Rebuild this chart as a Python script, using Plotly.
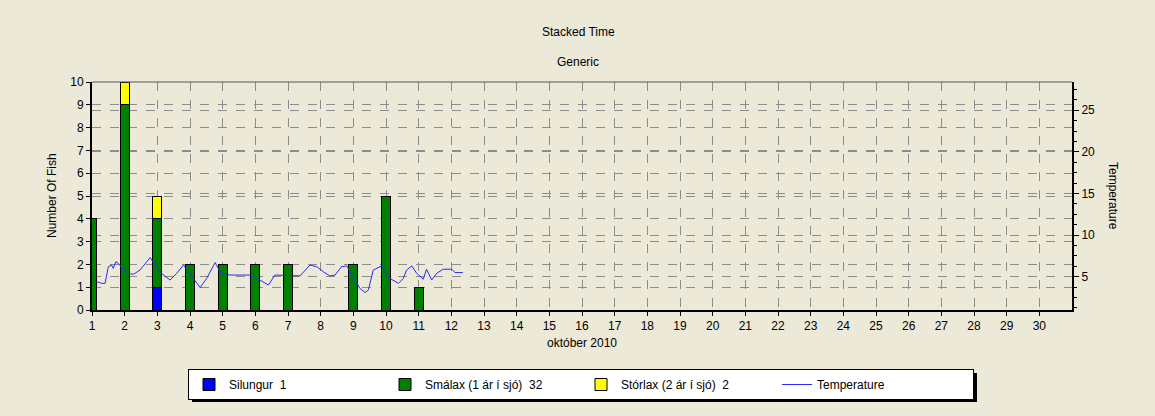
import plotly.graph_objects as go

# ---- data ----
days = [1, 2, 3, 4, 5, 6, 7, 9, 10, 11]
silungur = [0, 0, 1, 0, 0, 0, 0, 0, 0, 0]
smalax = [4, 9, 3, 2, 2, 2, 2, 2, 5, 1]
storlax = [0, 1, 1, 0, 0, 0, 0, 0, 0, 0]

temp_day = [1.00, 1.14, 1.30, 1.40, 1.50, 1.60, 1.65, 1.73, 1.81, 2.06, 2.27, 2.47,
            2.78, 2.93, 3.13, 3.39, 3.59, 3.80, 3.95, 4.10, 4.31, 4.51, 4.77, 4.92,
            5.22, 5.53, 5.84, 6.14, 6.40, 6.60, 7.37, 7.67, 7.88, 8.08, 8.28, 8.44,
            8.64, 8.80, 9.00, 9.20, 9.36, 9.46, 9.61, 9.87, 10.12, 10.38, 10.53,
            10.63, 10.79, 10.94, 11.14, 11.24, 11.40, 11.55, 11.75, 12.01, 12.11, 12.35]
temp_val = [5.0, 4.4, 4.2, 4.2, 6.2, 6.4, 6.0, 6.8, 6.6, 5.4, 5.3, 5.8,
            7.3, 6.4, 5.4, 4.6, 5.4, 6.4, 5.6, 4.8, 3.7, 4.8, 6.7, 5.6,
            5.2, 5.2, 5.2, 4.6, 4.0, 5.2, 5.1, 6.4, 6.2, 5.6, 5.1, 5.2,
            6.2, 6.3, 5.0, 3.6, 3.1, 3.4, 5.8, 6.3, 4.8, 4.2, 4.8,
            5.8, 6.3, 5.4, 4.7, 5.9, 4.6, 5.4, 5.9, 5.9, 5.5, 5.5]

tick_days = list(range(1, 31))
NB = "\u00a0"

BG = "#ECE9D8"
GRID = "#8c8c8c"
FONT = "Liberation Sans"

W, H = 1155, 416
ML, MR, MT, MB = 92, 83, 82, 106
pw, ph = W - ML - MR, H - MT - MB


def px(x):
    return (x - ML) / pw


def py(y):
    return (H - MB - y) / ph


fig = go.Figure()
bar_line = dict(color="black", width=1)
fig.add_bar(x=days, y=silungur, name="Silungur" + NB * 2 + "1",
            marker=dict(color="#0000FF", line=bar_line), width=0.28)
fig.add_bar(x=days, y=smalax, name="Smálax (1 ár í sjó)" + NB * 2 + "32",
            marker=dict(color="#008000", line=bar_line), width=0.28)
fig.add_bar(x=days, y=storlax, name="Stórlax (2 ár í sjó)" + NB * 2 + "2",
            marker=dict(color="#FFFF00", line=bar_line), width=0.28)
fig.add_scatter(x=temp_day, y=temp_val, name="Temperature", mode="lines",
                line=dict(color="#2A2AFF", width=1), yaxis="y2")

fig.update_layout(
    barmode="stack",
    width=W, height=H,
    margin=dict(l=ML, r=MR, t=MT, b=MB),
    paper_bgcolor=BG, plot_bgcolor=BG,
    font=dict(family=FONT, size=12, color="black"),
    showlegend=True,
    legend=dict(orientation="h", x=px(188), y=py(369), xanchor="left", yanchor="top",
                bgcolor="white", bordercolor="black", borderwidth=1,
                entrywidth=151, entrywidthmode="pixels",
                font=dict(family=FONT, size=12), itemwidth=30,
                tracegroupgap=0, traceorder="normal"),
    xaxis=dict(range=[1, 31], tickmode="array", tickvals=tick_days,
               ticktext=[str(d) for d in tick_days],
               showgrid=True, gridcolor=GRID, griddash="dash", gridwidth=1,
               showline=True, linecolor="black", linewidth=2,
               ticks="outside", ticklen=4, tickcolor="black",
               zeroline=False,
               title=dict(text="október 2010", standoff=6, font=dict(size=12))),
    yaxis=dict(range=[0, 10], dtick=1, tick0=0,
               showgrid=True, gridcolor=GRID, griddash="dash", gridwidth=1,
               showline=True, linecolor="black", linewidth=2,
               ticks="outside", ticklen=4, tickcolor="black", zeroline=False),
    yaxis2=dict(overlaying="y", side="right", range=[1, 28.4],
                tickvals=[5, 10, 15, 20, 25],
                showgrid=True, gridcolor=GRID, griddash="dash", gridwidth=1,
                showline=True, linecolor="black", linewidth=2,
                ticks="outside", ticklen=5, tickcolor="black", zeroline=False,
                minor=dict(dtick=1.25, tick0=0, ticks="outside", ticklen=3,
                           tickcolor="black", showgrid=False)),
)

fig.layout.annotations = [
    dict(text="Stacked Time", x=px(578), y=py(32), xref="paper", yref="paper",
         xanchor="center", yanchor="middle", showarrow=False, font=dict(size=12)),
    dict(text="Generic", x=px(578), y=py(62), xref="paper", yref="paper",
         xanchor="center", yanchor="middle", showarrow=False, font=dict(size=12)),
    dict(text="Number Of Fish", textangle=-90, x=px(52), y=py(196),
         xref="paper", yref="paper", xanchor="center", yanchor="middle",
         showarrow=False, font=dict(size=12)),
    dict(text="Temperature", textangle=90, x=px(1113), y=py(196),
         xref="paper", yref="paper", xanchor="center", yanchor="middle",
         showarrow=False, font=dict(size=12)),
]

fig.add_shape(type="line", xref="paper", yref="paper", x0=0, x1=1, y0=1, y1=1,
              line=dict(color="#555555", width=1))
# legend drop shadow
fig.add_shape(type="rect", xref="paper", yref="paper",
              x0=px(192), x1=px(977), y0=py(373), y1=py(402),
              fillcolor="black", line=dict(width=0), layer="above")

fig.write_html("out.html", config={"displayModeBar": False},
               post_script="document.body.style.margin='0px';")
